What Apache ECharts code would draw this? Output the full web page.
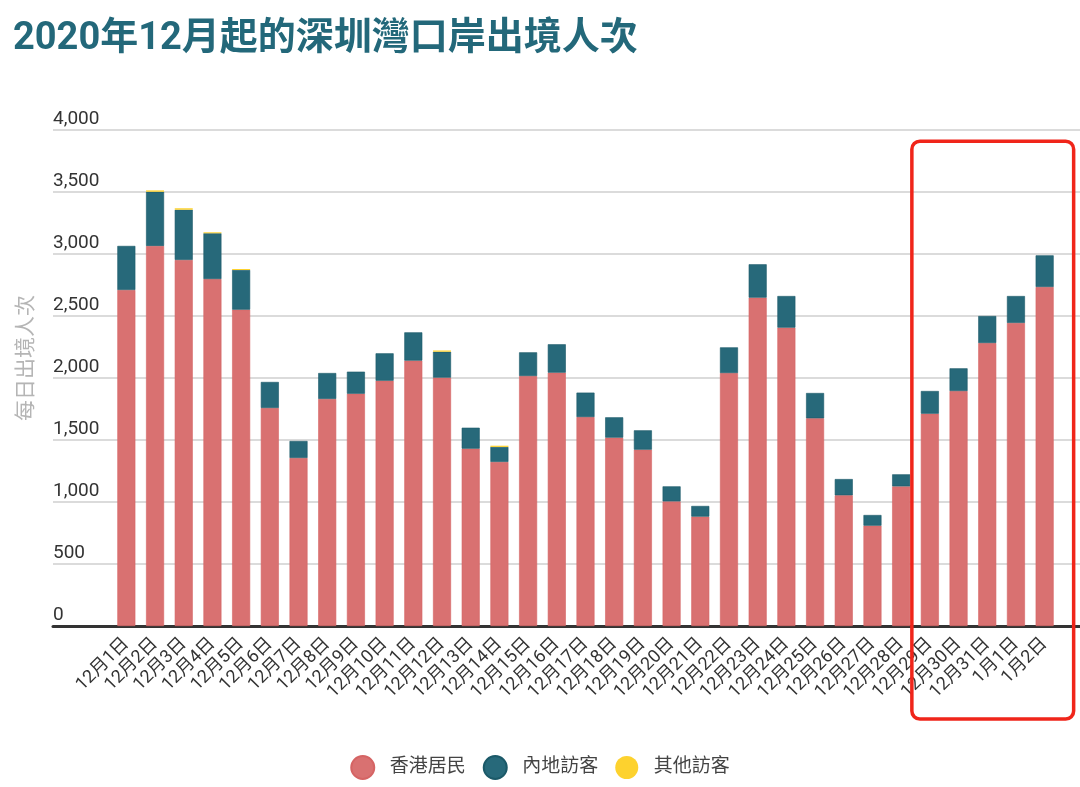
<!DOCTYPE html>
<html>
<head>
<meta charset="utf-8">
<script src="https://cdn.jsdelivr.net/npm/echarts@6/dist/echarts.min.js"></script>
<style>
html,body{margin:0;padding:0;background:#fff;}
#c{width:1080px;height:787px;}
</style>
</head>
<body>
<div id="c"></div>
<script>
var categories = ['12月1日','12月2日','12月3日','12月4日','12月5日','12月6日','12月7日','12月8日','12月9日','12月10日','12月11日','12月12日','12月13日','12月14日','12月15日','12月16日','12月17日','12月18日','12月19日','12月20日','12月21日','12月22日','12月23日','12月24日','12月25日','12月26日','12月27日','12月28日','12月29日','12月30日','12月31日','1月1日','1月2日'];
var hkResidents = [2710,3065,2952,2798,2551,1758,1355,1831,1873,1978,2140,2003,1430,1323,2016,2043,1685,1519,1422,1005,882,2040,2648,2406,1675,1054,809,1126,1712,1895,2282,2444,2734];
var mainlandVisitors = [355,437,405,369,320,210,137,209,178,221,228,209,169,121,191,229,197,164,156,121,86,207,269,255,204,131,86,97,183,183,218,217,255];
var otherVisitors = [0,11,12,8,8,0,0,0,0,0,0,10,0,10,0,0,0,0,0,0,0,0,0,0,0,0,0,0,0,0,0,0,0];
var yTicks = {min:0, max:4000, interval:500};
var seriesNames = ['香港居民','內地訪客','其他訪客'];
var colors = ['#D97171','#27697A','#FDD22E'];

var FONT = 'Roboto, "Noto Sans CJK TC", sans-serif';
var chart = echarts.init(document.getElementById('c'));
var option = {
  animation:false,
  backgroundColor:'#fff',
  color:colors,
  title:{
    text:'2020年12月起的深圳灣口岸出境人次',
    left:8, top:15,
    textStyle:{fontFamily:FONT, fontSize:38, fontWeight:'bold', color:'#23687A'}
  },
  legend:{
    data:seriesNames,
    top:750, left:'center',
    icon:'circle', itemWidth:44, itemHeight:23, itemGap:17,
    textStyle:{fontFamily:FONT, fontSize:19, color:'#444'}
  },
  grid:[
    {left:53, right:0, top:130, bottom:161},
    {left:112, right:21, top:130, bottom:161}
  ],
  xAxis:[
    {gridIndex:0, type:'value', min:0, max:1, axisLabel:{show:false}, axisTick:{show:false}, splitLine:{show:false},
     axisLine:{show:true, lineStyle:{color:'#333', width:3}}},
    {gridIndex:1, type:'category', data:categories, axisLine:{show:false}, axisTick:{show:false},
     axisLabel:{interval:0, rotate:45, margin:15, fontFamily:FONT, fontSize:18, color:'#333'}}
  ],
  yAxis:[
    {gridIndex:0, type:'value', min:yTicks.min, max:yTicks.max, interval:yTicks.interval,
     axisLine:{show:false}, axisTick:{show:false},
     splitLine:{lineStyle:{color:'#cfcfcf', width:1.5}},
     axisLabel:{inside:true, margin:0, verticalAlign:'bottom', padding:[0,0,1,0],
       fontFamily:FONT, fontSize:19, color:'#333',
       formatter:function(v){return v.toLocaleString('en-US');}}},
    {gridIndex:1, type:'value', min:yTicks.min, max:yTicks.max, interval:yTicks.interval, show:false, splitLine:{show:false}}
  ],
  series:[
    {name:seriesNames[0], type:'bar', stack:'t', xAxisIndex:1, yAxisIndex:1, data:hkResidents, barWidth:18,
     itemStyle:{color:colors[0], borderColor:'#D56464', borderWidth:0.6}},
    {name:seriesNames[1], type:'bar', stack:'t', xAxisIndex:1, yAxisIndex:1, data:mainlandVisitors, barWidth:18,
     itemStyle:{color:colors[1], borderColor:'#1B5968', borderWidth:0.6}},
    {name:seriesNames[2], type:'bar', stack:'t', xAxisIndex:1, yAxisIndex:1, data:otherVisitors, barWidth:18,
     itemStyle:{color:colors[2]}}
  ]
};
chart.setOption(option);

var x0 = chart.convertToPixel({xAxisIndex:1}, categories[28]);
var x1 = chart.convertToPixel({xAxisIndex:1}, categories[32]);
var yTop = chart.convertToPixel({yAxisIndex:1}, 3910);
var yBase = chart.convertToPixel({yAxisIndex:1}, 0);
chart.setOption({
  graphic:[
    {type:'text', x:27, y:358, rotation:Math.PI/2,
     style:{text:'每日出境人次', fontFamily:FONT, fontSize:21, fill:'#b5b5b5', align:'center', verticalAlign:'middle'}},
    {type:'rect', z:100,
     shape:{x:x0-18, y:yTop, width:(x1+29)-(x0-18), height:(yBase+93)-yTop, r:8},
     style:{fill:'none', stroke:'#F0251A', lineWidth:3.5}}
  ]
});
</script>
</body>
</html>
